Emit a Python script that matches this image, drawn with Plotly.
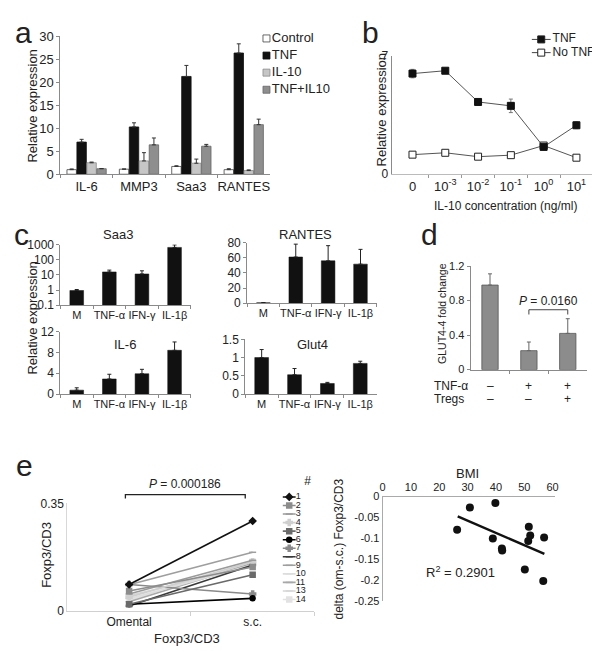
import plotly.graph_objects as go

# ---------------- data ----------------
# panel a
a_genes = ["IL-6", "MMP3", "Saa3", "RANTES"]
a_series = ["Control", "TNF", "IL-10", "TNF+IL10"]
a_control = [1.0, 1.1, 1.7, 1.0]
a_control_err = [0.15, 0.05, 0.15, 0.2]
a_tnf = [7.0, 10.3, 21.3, 26.4]
a_tnf_err = [0.6, 0.9, 2.4, 2.0]
a_il10 = [2.5, 2.9, 2.4, 0.8]
a_il10_err = [0.15, 1.8, 0.9, 0.15]
a_tnf_il10 = [1.2, 6.4, 6.1, 10.8]
a_tnf_il10_err = [0.05, 1.5, 0.4, 1.2]

# panel b
b_conc_labels = ["0", "10<sup>-3</sup>", "10<sup>-2</sup>", "10<sup>-1</sup>", "10<sup>0</sup>", "10<sup>1</sup>"]
b_tnf = [5.96, 6.13, 4.28, 4.05, 1.62, 2.9]
b_tnf_err = [0.25, 0.05, 0.08, 0.4, 0.1, 0.2]
b_no_tnf = [1.16, 1.27, 1.04, 1.13, 1.7, 0.98]
b_no_tnf_err = [0.15, 0.05, 0.12, 0.05, 0.15, 0.05]

# panel c
c_stimuli = ["M", "TNF-α", "IFN-γ", "IL-1β"]
c_saa3 = [0.93, 15.6, 11.5, 650]
c_saa3_err = [0.15, 5, 7, 300]
c_rantes = [0.5, 61, 56, 51.6]
c_rantes_err = [0.3, 17, 20, 19.5]
c_il6 = [0.75, 2.9, 3.9, 8.4]
c_il6_err = [0.45, 0.9, 0.85, 1.6]
c_glut4 = [1.0, 0.53, 0.29, 0.84]
c_glut4_err = [0.22, 0.17, 0.03, 0.06]

# panel d
d_groups = [0, 1, 2]
d_glut4 = [0.98, 0.22, 0.42]
d_glut4_err = [0.13, 0.10, 0.17]
d_tnf_signs = ["–", "+", "+"]
d_treg_signs = ["–", "–", "+"]
d_p_pair = [1, 2]
d_p_height = 0.694
d_p_text = "<i>P</i> = 0.0160"

# panel e (left)
e_sites = ["Omental", "s.c."]
e_ids = ["1", "2", "3", "4", "5", "6", "7", "8", "9", "10", "11", "13", "14"]
e_omental = [0.086, 0.065, 0.055, 0.045, 0.022, 0.022, 0.086, 0.016, 0.085, 0.040, 0.030, 0.050, 0.035]
e_sc = [0.293, 0.143, 0.165, 0.160, 0.118, 0.041, 0.055, 0.150, 0.191, 0.150, 0.155, 0.145, 0.160]
e_colors = ["#111111", "#8c8c8c", "#9a9a9a", "#cfcfcf", "#6a6a6a", "#000000", "#8a8a8a",
            "#3a3a3a", "#9e9e9e", "#dddddd", "#a8a8a8", "#d6d6d6", "#e2e2e2"]
e_symbols = ["diamond", "square", "line-ew", "cross", "square", "circle", "cross",
             "line-ew", "line-ew", "line-ew", "line-ew", "line-ew", "square"]
e_p_span = [-0.03, 0.94]
e_p_height = 0.379
e_p_text = "<i>P</i> = 0.000186"

# panel e (right)
e_bmi = [26.3, 30.8, 39.8, 38.9, 42.1, 42.2, 50.2, 51.4, 51.6, 52.1, 57.0, 56.7]
e_delta = [-0.079, -0.026, -0.015, -0.100, -0.124, -0.129, -0.174, -0.106, -0.072, -0.093, -0.098, -0.202]
e_trend_bmi = [26.5, 57.1]
e_trend_delta = [-0.047, -0.137]
e_r2_text = "R<sup>2</sup> = 0.2901"

# ---------------- helpers ----------------
W, H = 600, 651
FONT = "Arial, 'Liberation Sans', sans-serif"
TXT = "#222222"
AX = "#8a8a8a"


def px(x):
    return x / W


def py(y):
    return 1 - y / H


def xdom(a, b):
    return [a / W, b / W]


def ydom(top, bottom):
    return [1 - bottom / H, 1 - top / H]


def tf(size):
    return dict(size=size, color=TXT, family=FONT)


def axis(**kw):
    d = dict(showgrid=False, zeroline=False, showline=True, linecolor=AX, linewidth=1,
             ticks="outside", ticklen=3, tickcolor=AX, tickwidth=1, tickangle=0,
             tickfont=tf(12), fixedrange=True)
    d.update(kw)
    return d


def hidden(**kw):
    d = dict(visible=False, showgrid=False, zeroline=False, fixedrange=True)
    d.update(kw)
    return d


def ann(text, x, y, size=12, **kw):
    d = dict(text=text, x=px(x), y=py(y), xref="paper", yref="paper", showarrow=False,
             xanchor="center", yanchor="middle", font=tf(size))
    d.update(kw)
    return d


def up_err(arr, color="#222", width=2):
    return dict(type="data", array=arr, arrayminus=[0] * len(arr), symmetric=False,
                color=color, thickness=1, width=width)


fig = go.Figure()

# ---------------- panel a ----------------
a_vals = [a_control, a_tnf, a_il10, a_tnf_il10]
a_errs = [a_control_err, a_tnf_err, a_il10_err, a_tnf_il10_err]
a_colors = ["#ffffff", "#111111", "#c6c6c6", "#8e8e8e"]
a_lines = ["#444444", "#111111", "#8a8a8a", "#666666"]
for i in range(4):
    fig.add_trace(go.Bar(x=a_genes, y=a_vals[i], xaxis="x", yaxis="y", width=0.18,
                         offset=-0.375 + 0.19 * i,
                         marker=dict(color=a_colors[i], line=dict(color=a_lines[i], width=0.8)),
                         error_y=up_err(a_errs[i], "#333")))
# legend a (drawn in its own hidden axes)
fig.add_trace(go.Scatter(x=[8.5] * 4, y=list(range(4)), xaxis="x10", yaxis="y10",
                         mode="markers+text", text=a_series, textposition="middle right",
                         textfont=tf(13),
                         marker=dict(symbol="square", size=7, color=a_colors,
                                     line=dict(color=a_lines, width=0.8)),
                         cliponaxis=False))

# ---------------- panel b ----------------
b_x = list(range(len(b_conc_labels)))
fig.add_trace(go.Scatter(x=b_x, y=b_no_tnf, xaxis="x2", yaxis="y2", mode="lines+markers",
                         line=dict(color="#555", width=1),
                         marker=dict(symbol="square", size=7, color="white", line=dict(color="#222", width=1)),
                         error_y=dict(type="data", array=b_no_tnf_err, color="#777", thickness=1, width=2)))
fig.add_trace(go.Scatter(x=b_x, y=b_tnf, xaxis="x2", yaxis="y2", mode="lines+markers",
                         line=dict(color="#555", width=1),
                         marker=dict(symbol="square", size=7, color="#111", line=dict(color="#111", width=1)),
                         error_y=dict(type="data", array=b_tnf_err, color="#777", thickness=1, width=2)))
# legend b
b_leg_names = ["TNF", "No TNF"]
b_leg_fill = ["#111", "white"]
for i in range(2):
    fig.add_trace(go.Scatter(x=[2, 21], y=[i, i], xaxis="x11", yaxis="y11", mode="lines",
                             line=dict(color="#444", width=1), cliponaxis=False))
    fig.add_trace(go.Scatter(x=[11.5], y=[i], xaxis="x11", yaxis="y11", mode="markers",
                             marker=dict(symbol="square", size=7, color=b_leg_fill[i],
                                         line=dict(color="#222", width=1)), cliponaxis=False))
fig.add_trace(go.Scatter(x=[23, 23], y=[0, 1], xaxis="x11", yaxis="y11", mode="text",
                         text=b_leg_names, textposition="middle right",
                         textfont=tf(12), cliponaxis=False))

# ---------------- panel c ----------------
c_sets = [(c_saa3, c_saa3_err, "x3", "y3"), (c_rantes, c_rantes_err, "x4", "y4"),
          (c_il6, c_il6_err, "x5", "y5"), (c_glut4, c_glut4_err, "x6", "y6")]
for vals, errs, xa, ya in c_sets:
    fig.add_trace(go.Bar(x=c_stimuli, y=vals, xaxis=xa, yaxis=ya, width=0.42,
                         marker=dict(color="#111", line=dict(color="#111", width=0.5)),
                         error_y=up_err(errs, "#222", 2)))

# ---------------- panel d ----------------
fig.add_trace(go.Bar(x=d_groups, y=d_glut4, xaxis="x7", yaxis="y7", width=0.42,
                     marker=dict(color="#8c8c8c", line=dict(color="#555", width=0.8)),
                     error_y=up_err(d_glut4_err, "#666", 2)))
fig.add_trace(go.Scatter(x=[d_p_pair[0], d_p_pair[0], d_p_pair[1], d_p_pair[1]],
                         y=[d_p_height - 0.055, d_p_height, d_p_height, d_p_height - 0.055],
                         xaxis="x7", yaxis="y7", mode="lines", line=dict(color="#444", width=1)))

# ---------------- panel e left ----------------
for i in reversed(range(len(e_ids))):
    fig.add_trace(go.Scatter(x=[0, 1], y=[e_omental[i], e_sc[i]], xaxis="x8", yaxis="y8",
                             mode="lines+markers", line=dict(color=e_colors[i], width=1.6),
                             marker=dict(symbol=e_symbols[i], size=5, color=e_colors[i],
                                         line=dict(color=e_colors[i], width=1.5)),
                             cliponaxis=False))
# bracket (on a hidden taller axis with the same scale)
fig.add_trace(go.Scatter(x=[e_p_span[0], e_p_span[0], e_p_span[1], e_p_span[1]],
                         y=[e_p_height - 0.013, e_p_height, e_p_height, e_p_height - 0.013],
                         xaxis="x8", yaxis="y13", mode="lines", line=dict(color="#222", width=1.3)))
# legend e
for i in range(len(e_ids)):
    fig.add_trace(go.Scatter(x=[5, 18], y=[i, i], xaxis="x12", yaxis="y12", mode="lines",
                             line=dict(color=e_colors[i], width=1.6), cliponaxis=False))
    fig.add_trace(go.Scatter(x=[11.5], y=[i], xaxis="x12", yaxis="y12", mode="markers",
                             marker=dict(symbol=e_symbols[i], size=5, color=e_colors[i],
                                         line=dict(color=e_colors[i], width=1.5)), cliponaxis=False))
fig.add_trace(go.Scatter(x=[18] * len(e_ids), y=list(range(len(e_ids))), xaxis="x12", yaxis="y12",
                         mode="text", text=e_ids, textposition="middle right",
                         textfont=tf(9), cliponaxis=False))
fig.add_trace(go.Scatter(x=[30], y=[-1.75], xaxis="x12", yaxis="y12", mode="text", text=["#"],
                         textposition="middle center", textfont=tf(12), cliponaxis=False))

# ---------------- panel e right ----------------
fig.add_trace(go.Scatter(x=e_trend_bmi, y=e_trend_delta, xaxis="x9", yaxis="y9", mode="lines",
                         line=dict(color="#111", width=2.5)))
fig.add_trace(go.Scatter(x=e_bmi, y=e_delta, xaxis="x9", yaxis="y9", mode="markers",
                         marker=dict(color="#111", size=8), cliponaxis=False))

# ---------------- layout ----------------
cat_x = dict(type="category", range=[-0.5, 3.5], tickson="boundaries", ticklen=3)
layout = dict(
    width=W, height=H, margin=dict(l=0, r=0, t=0, b=0),
    paper_bgcolor="white", plot_bgcolor="rgba(0,0,0,0)", showlegend=False,
    barmode="overlay", font=dict(family=FONT, color=TXT),
    # a
    xaxis=axis(domain=xdom(50, 262), anchor="y", tickfont=tf(13), **cat_x),
    yaxis=axis(domain=ydom(22, 163), anchor="x", range=[0, 30], tickvals=[0, 5, 10, 15, 20, 25, 30],
               tickfont=tf(13)),
    # b
    xaxis2=axis(domain=xdom(385, 592), anchor="y2", range=[-0.64, 5.6], tickvals=b_x,
                ticktext=b_conc_labels, ticks="", linecolor="#bbb", tickfont=tf(13),
                minor=dict(tickvals=[0.5, 1.5, 2.5, 3.5, 4.5], ticks="outside", ticklen=3, tickcolor="#999")),
    yaxis2=axis(domain=ydom(42, 163), anchor="x2", range=[0, 7], tickvals=[0, 7], ticks="",
                tickfont=tf(12)),
    # c
    xaxis3=axis(domain=xdom(50, 182), anchor="y3", tickfont=tf(11), **cat_x),
    yaxis3=axis(domain=ydom(235, 297), anchor="x3", type="log", range=[-1, 3],
                tickvals=[0.1, 1, 10, 100, 1000], ticktext=["0.1", "1", "10", "100", "1000"]),
    xaxis4=axis(domain=xdom(239, 370), anchor="y4", tickfont=tf(11), **cat_x),
    yaxis4=axis(domain=ydom(233, 295), anchor="x4", range=[0, 80], tickvals=[0, 20, 40, 60, 80]),
    xaxis5=axis(domain=xdom(50, 182), anchor="y5", tickfont=tf(11), **cat_x),
    yaxis5=axis(domain=ydom(324, 388), anchor="x5", range=[0, 12], tickvals=[0, 4, 8, 12]),
    xaxis6=axis(domain=xdom(237, 370), anchor="y6", tickfont=tf(11), **cat_x),
    yaxis6=axis(domain=ydom(332, 388), anchor="x6", range=[0, 1.5], tickvals=[0, 0.5, 1, 1.5],
                ticktext=["0", "0.5", "1", "1.5"]),
    # d
    xaxis7=axis(domain=xdom(465, 583), anchor="y7", range=[-0.5, 2.5], showticklabels=False, ticks="",
                minor=dict(tickvals=[0.5, 1.5], ticks="outside", ticklen=3, tickcolor=AX)),
    yaxis7=axis(domain=ydom(257, 363), anchor="x7", range=[0, 1.2], tickvals=[0, 0.4, 0.8, 1.2],
                ticktext=["0", "0.4", "0.8", "1.2"], tickfont=tf(11)),
    # e left
    xaxis8=axis(domain=xdom(57, 307), anchor="y8", range=[-0.5, 1.5], tickvals=[0, 1], ticktext=e_sites,
                ticks="", linecolor="#d0d0d0",
                minor=dict(tickvals=[0.5, 1.5], ticks="outside", ticklen=4, tickcolor="#d0d0d0")),
    yaxis8=axis(domain=ydom(500, 610), anchor="x8", range=[0, 0.35], tickvals=[0, 0.35],
                ticktext=["0", "0.35"], ticks="", linecolor="#d8d8d8"),
    yaxis13=hidden(domain=ydom(470, 610), anchor="x8", range=[0, 0.35 * 140 / 110]),
    # e right
    xaxis9=axis(domain=xdom(376, 550), anchor="y9", side="top", range=[0, 60.7],
                tickvals=[0, 10, 20, 30, 40, 50, 60], ticks="", linecolor="#aaa", tickfont=tf(11)),
    yaxis9=axis(domain=ydom(493, 600), anchor="x9", range=[-0.25, 0],
                tickvals=[0, -0.05, -0.1, -0.15, -0.2, -0.25],
                ticktext=["0", "-0.05", "-0.1", "-0.15", "-0.2", "-0.25"], ticks="", linecolor="#aaa",
                tickfont=tf(11)),
    # legend helper axes
    xaxis10=hidden(domain=xdom(250, 310), anchor="y10", range=[0, 60]),
    yaxis10=hidden(domain=ydom(15.25, 85.25), anchor="x10", range=[3.5, -0.5]),
    xaxis11=hidden(domain=xdom(525, 600), anchor="y11", range=[0, 75]),
    yaxis11=hidden(domain=ydom(18.25, 45.25), anchor="x11", range=[1.5, -0.5]),
    xaxis12=hidden(domain=xdom(270, 310), anchor="y12", range=[0, 40]),
    yaxis12=hidden(domain=ydom(472, 603.3), anchor="x12", range=[12.57, -2.434]),
)

annotations = [
    # panel letters
    ann("a", 13, 17.5, 30), ann("b", 364, 17.5, 30), ann("c", 11, 224.5, 30),
    ann("d", 423, 224.5, 30), ann("e", 14, 461.5, 30),
    # axis titles
    ann("Relative expression", 22, 93, 13, textangle=-90),
    ann("Relative expression", 375, 97, 13, textangle=-90),
    ann("IL-10 concentration (ng/ml)", 500, 195, 12),
    ann("Relative expression", 22, 310, 13, textangle=-90),
    ann("GLUT4-4 fold change", 436, 305, 10.5, textangle=-90),
    ann("Foxp3/CD3", 36, 553, 13, textangle=-90),
    ann("Foxp3/CD3", 178, 638, 13),
    ann("delta (om-s.c.) Foxp3/CD3", 332, 547, 12, textangle=-90),
    ann("BMI", 462, 469, 13),
    # c subplot titles
    ann("Saa3", 108, 225, 13), ann("RANTES", 298, 225, 13),
    ann("IL-6", 115, 337, 13), ann("Glut4", 305, 337, 13),
    # d row labels
    ann("TNF-α", 426, 380, 12, xanchor="left"), ann("Tregs", 426, 393, 12, xanchor="left"),
    # texts in data coords
    dict(text=d_p_text, x=1.5, y=0.80, xref="x7", yref="y7", showarrow=False,
         xanchor="center", yanchor="middle", font=tf(12)),
    dict(text=e_p_text, x=0.45, y=e_p_height + 0.033, xref="x8", yref="y13", showarrow=False,
         xanchor="center", yanchor="middle", font=tf(12)),
    dict(text=e_r2_text, x=27.6, y=-0.18, xref="x9", yref="y9", showarrow=False,
         xanchor="center", yanchor="middle", font=tf(13)),
]
for i in range(3):
    annotations.append(dict(text=d_tnf_signs[i], x=d_groups[i], y=py(380), xref="x7", yref="paper",
                            showarrow=False, xanchor="center", yanchor="middle", font=tf(12)))
    annotations.append(dict(text=d_treg_signs[i], x=d_groups[i], y=py(393), xref="x7", yref="paper",
                            showarrow=False, xanchor="center", yanchor="middle", font=tf(12)))
layout["annotations"] = annotations

fig.update_layout(**layout)
fig.write_html("out.html")
